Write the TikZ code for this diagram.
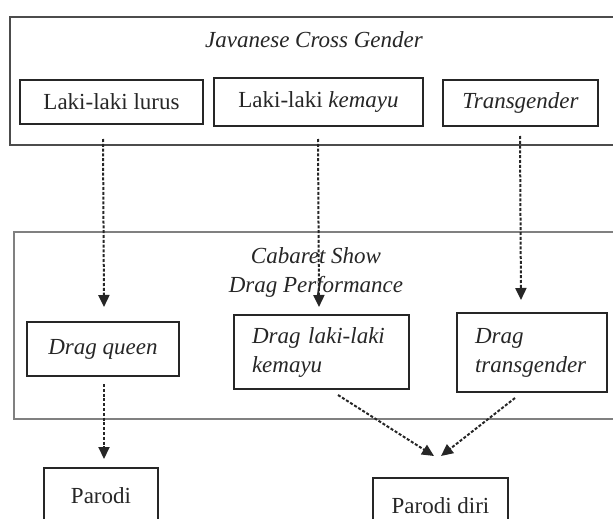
\documentclass[tikz,border=0pt]{standalone}
\usepackage{fontspec}
\setmainfont{Liberation Serif}
\usetikzlibrary{arrows.meta}

\begin{document}
\begin{tikzpicture}
        [x=1pt, y=-1pt, every node/.style={draw=black!85, line width=2.2pt, inner sep=0, text=black!85, font=\fontsize{23}{29}\selectfont},
        frame/.style={draw=black!70, line width=2.4pt}, lightframe/.style={draw=black!50, line width=1.6pt},
        plain/.style={draw=none}, leftbox/.style={align=left, inner xsep=18pt},
        dasharrow/.style={draw=black!85, line width=2pt, dash pattern=on 3pt off 1.8pt, -{Triangle[length=12pt,width=11pt]}}]

        \useasboundingbox (0,0) rectangle (613,519);

        \node[frame, minimum width=606pt, minimum height=128pt] (jframe) at (313,81) {};
        \node[plain] (jtitle) at (314,40) {\textit{Javanese Cross Gender}};
        \node[minimum width=183pt, minimum height=44pt] (lurus) at (111.5,102) {Laki-laki lurus};
        \node[minimum width=209pt, minimum height=48pt] (kemayu) at (318.5,102) {Laki-laki \textit{kemayu}};
        \node[minimum width=155pt, minimum height=46pt] (trans) at (520.5,103) {\textit{Transgender}};

        \node[lightframe, minimum width=604pt, minimum height=187pt] (cframe) at (316,325.5) {};
        \node[plain, align=center] (ctitle) at (316,272) {\textit{Cabaret Show}\\\textit{Drag Performance}};
        \node[minimum width=152pt, minimum height=54pt] (queen) at (103,349) {\textit{Drag queen}};
        \node[leftbox, text width=139pt, minimum height=74pt] (dkemayu) at (321.5,352) {\textit{Drag laki-laki}\\\textit{kemayu}};
        \node[leftbox, text width=114pt, minimum height=79pt] (dtrans) at (532,352.5) {\textit{Drag}\\\textit{transgender}};

        \node[minimum width=114pt, minimum height=56pt] (parodi) at (101,496) {Parodi};
        \node[minimum width=135pt, minimum height=56pt] (pdiri) at (440.5,506) {Parodi diri};

        \coordinate (l1) at (103,139);
        \coordinate (l2) at (104,307);
        \coordinate (k1) at (318,139);
        \coordinate (k2) at (319,307);
        \coordinate (t1) at (520,136);
        \coordinate (t2) at (521,300);
        \coordinate (q1) at (104,384);
        \coordinate (q2) at (104,459);
        \coordinate (m1) at (338,395);
        \coordinate (m2) at (434,456);
        \coordinate (r1) at (515,398);
        \coordinate (r2) at (441,456);

        \draw[dasharrow] (l1) -- (l2);
        \draw[dasharrow] (k1) -- (k2);
        \draw[dasharrow] (t1) -- (t2);
        \draw[dasharrow] (q1) -- (q2);
        \draw[dasharrow] (m1) -- (m2);
        \draw[dasharrow] (r1) -- (r2);
      \end{tikzpicture}
\end{document}
